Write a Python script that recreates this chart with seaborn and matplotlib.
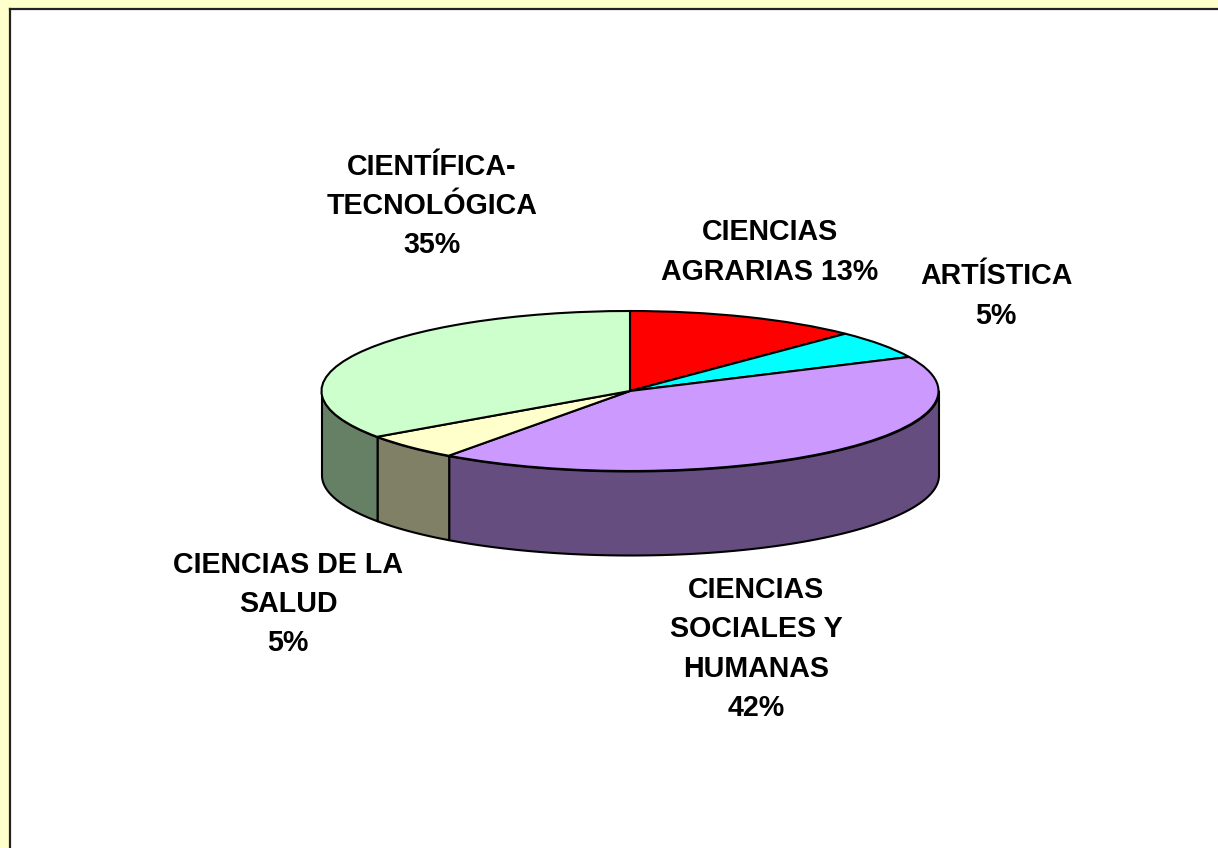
import numpy as np
import matplotlib.pyplot as plt
import seaborn as sns

# datos del grafico (orden horario desde arriba)
etiquetas = ['CIENCIAS\nAGRARIAS 13%', 'ARTÍSTICA\n5%', 'CIENCIAS\nSOCIALES Y\nHUMANAS\n42%',
             'CIENCIAS DE LA\nSALUD\n5%', 'CIENTÍFICA-\nTECNOLÓGICA\n35%']
valores = [12.3, 5.7, 42, 5.3, 34.7]
colores = ['#FF0000', '#00FFFF', '#CC99FF', '#FFFFCC', '#CCFFCC']

W, H = 1218, 848
CX, CY = 630, 391   # centro de la tapa en pixeles
RX, RY = 308.5, 80
ALTO = 84 / RY      # grosor del disco, en unidades de RY
LW = 1.5

sns.set_theme(style='white')
plt.rcParams['font.family'] = ['Liberation Sans', 'DejaVu Sans']

fig = plt.figure(figsize=(W / 100, H / 100), dpi=100, facecolor='#FFFFCC')
ax = fig.add_axes([10 / W, 0, 1 - 10 / W, 1 - 9 / H], facecolor='white')

# lateral del disco: solo la mitad frontal de cada porcion
limites = np.cumsum([0] + valores) / sum(valores) * 2 * np.pi
for i, color in enumerate(colores):
    t0 = max(limites[i], np.pi / 2)
    t1 = min(limites[i + 1], 3 * np.pi / 2)
    if t1 <= t0:
        continue
    t = np.linspace(t0, t1, 80)
    x = np.sin(t)
    y = np.cos(t)
    oscuro = tuple(c * 0.5 for c in plt.matplotlib.colors.to_rgb(color))
    ax.fill_between(x, y, y - ALTO, color=oscuro, edgecolor='black', linewidth=LW, zorder=1)

# tapa del disco
wedges, _ = ax.pie(valores, colors=colores, startangle=90, counterclock=False, radius=1,
                   wedgeprops={'edgecolor': 'black', 'linewidth': LW, 'zorder': 2})

ax.set_aspect('auto')
ax.set_xlim((10 - CX) / RX, (W - CX) / RX)
ax.set_ylim(-(H - CY) / RY, (CY - 9) / RY)
ax.set_frame_on(True)
ax.set_xticks([])
ax.set_yticks([])
for lado in ['right', 'bottom']:
    ax.spines[lado].set_visible(False)
for lado in ['left', 'top']:
    ax.spines[lado].set_visible(True)
    ax.spines[lado].set_color('#222222')
    ax.spines[lado].set_linewidth(1.6)

# posicion de las etiquetas en pixeles
pos_x = [770, 996, 756, 288, 432]
pos_y = [252, 296, 649, 604, 206]
for texto, px, py in zip(etiquetas, pos_x, pos_y):
    fig.text(px / W, 1 - py / H, texto, ha='center', va='center', fontsize=20.6,
             fontweight='bold', color='black', linespacing=1.52, multialignment='center')

fig.savefig('out.png', dpi=100, facecolor=fig.get_facecolor())
